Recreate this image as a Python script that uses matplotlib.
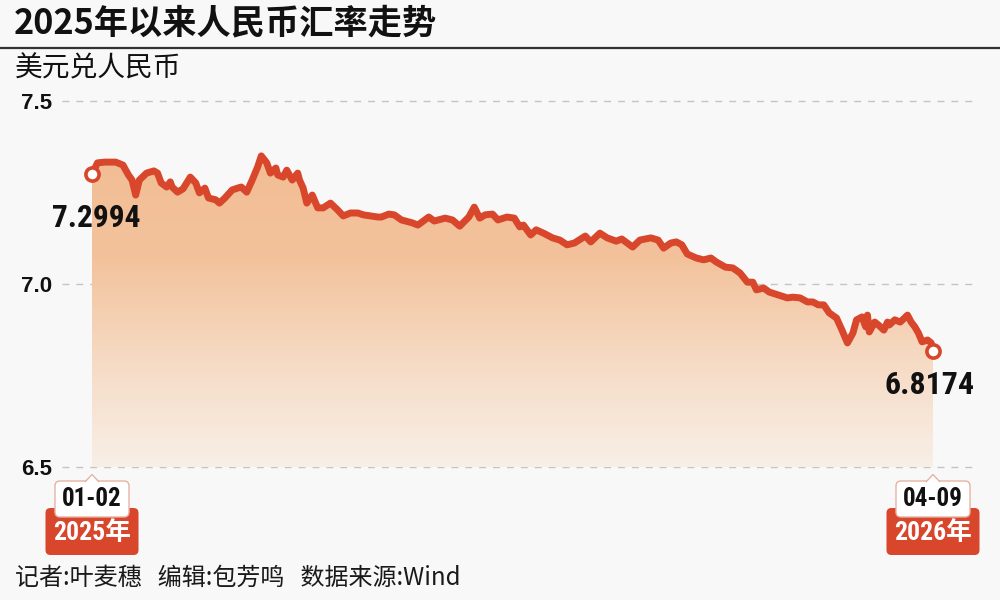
import numpy as np
import pandas as pd
import matplotlib
matplotlib.use('Agg')
import matplotlib.pyplot as plt
import matplotlib.dates as mdates
from matplotlib import font_manager as fm
from matplotlib.patches import FancyBboxPatch, Polygon
from matplotlib.lines import Line2D
from matplotlib.colors import LinearSegmentedColormap

# ---------------- data ----------------
dates = ['2025-01-02','2025-01-05','2025-01-09','2025-01-15','2025-01-19','2025-01-22','2025-01-24','2025-01-26','2025-01-28',
         '2025-02-01','2025-02-05','2025-02-07','2025-02-09','2025-02-12','2025-02-14','2025-02-15','2025-02-18','2025-02-21',
         '2025-02-25','2025-02-28','2025-03-02','2025-03-05','2025-03-07','2025-03-11','2025-03-13','2025-03-16','2025-03-20',
         '2025-03-23','2025-03-25','2025-03-28','2025-03-31','2025-04-03','2025-04-05','2025-04-08','2025-04-10','2025-04-13',
         '2025-04-14','2025-04-17','2025-04-19','2025-04-22','2025-04-25','2025-04-26','2025-04-28','2025-04-30','2025-05-03',
         '2025-05-06','2025-05-09','2025-05-13','2025-05-17','2025-05-20','2025-05-24','2025-05-28','2025-05-31','2025-06-04',
         '2025-06-08','2025-06-10','2025-06-14','2025-06-17','2025-06-21','2025-06-27','2025-06-30','2025-07-06','2025-07-09',
         '2025-07-15','2025-07-19','2025-07-23','2025-07-28','2025-07-31','2025-08-03','2025-08-06','2025-08-10','2025-08-13',
         '2025-08-18','2025-08-22','2025-08-25','2025-08-27','2025-08-31','2025-09-03','2025-09-07','2025-09-12','2025-09-16',
         '2025-09-20','2025-09-24','2025-09-30','2025-10-03','2025-10-08','2025-10-12','2025-10-17','2025-10-20','2025-10-26',
         '2025-10-30','2025-11-05','2025-11-09','2025-11-12','2025-11-16','2025-11-19','2025-11-22','2025-11-25','2025-11-30',
         '2025-12-04','2025-12-08','2025-12-11','2025-12-16','2025-12-20','2025-12-24','2025-12-28','2025-12-31','2026-01-02',
         '2026-01-06','2026-01-09','2026-01-14','2026-01-19','2026-01-22','2026-01-26','2026-01-30','2026-02-02','2026-02-05',
         '2026-02-08','2026-02-11','2026-02-15','2026-02-18','2026-02-21','2026-02-24','2026-02-26','2026-03-01','2026-03-03',
         '2026-03-04','2026-03-05','2026-03-08','2026-03-10','2026-03-13','2026-03-15','2026-03-16','2026-03-19','2026-03-22',
         '2026-03-26','2026-03-28','2026-03-30','2026-04-01','2026-04-03','2026-04-06','2026-04-08','2026-04-09']

rates = [7.2994,7.331,7.333,7.333,7.325,7.298,7.284,7.243,7.284,
         7.303,7.309,7.303,7.276,7.265,7.279,7.265,7.251,7.260,
         7.292,7.276,7.249,7.262,7.235,7.230,7.221,7.235,7.257,
         7.262,7.265,7.251,7.284,7.320,7.350,7.331,7.303,7.317,
         7.298,7.292,7.311,7.284,7.303,7.284,7.262,7.221,7.243,
         7.208,7.208,7.221,7.202,7.186,7.194,7.194,7.189,7.186,
         7.183,7.183,7.191,7.189,7.175,7.167,7.161,7.183,7.172,
         7.180,7.175,7.158,7.183,7.210,7.180,7.189,7.191,7.175,
         7.183,7.180,7.156,7.161,7.134,7.148,7.139,7.126,7.120,
         7.107,7.112,7.131,7.115,7.139,7.126,7.117,7.123,7.101,
         7.120,7.126,7.120,7.098,7.112,7.115,7.107,7.082,7.071,
         7.066,7.071,7.060,7.046,7.044,7.030,7.005,7.005,6.984,
         6.989,6.978,6.970,6.962,6.964,6.962,6.951,6.951,6.943,
         6.943,6.921,6.907,6.874,6.839,6.866,6.902,6.910,6.883,
         6.915,6.869,6.896,6.888,6.874,6.896,6.888,6.902,6.896,
         6.915,6.896,6.883,6.866,6.842,6.847,6.839,6.8174]

y_ticks = [6.5, 7.0, 7.5]
y_tick_labels = ['6.5', '7.0', '7.5']
start_label = '01-02'
end_label = '04-09'
start_year = '2025年'
end_year = '2026年'
title = '2025年以来人民币汇率走势'
unit = '美元兑人民币'
footer = '记者:叶麦穗   编辑:包芳鸣   数据来源:Wind'

if len(dates) != len(rates):
    raise SystemExit(f'length mismatch {len(dates)} {len(rates)}')

# ---------------- fonts ----------------
def has_font(name):
    try:
        fm.findfont(fm.FontProperties(family=name), fallback_to_default=False)
        return True
    except Exception:
        return False

narrow_first = [f for f in ['Liberation Sans Narrow', 'Roboto Condensed', 'DejaVu Sans Condensed'] if has_font(f)]
NARROW = narrow_first + ['Liberation Sans', 'Noto Sans CJK SC', 'DejaVu Sans']
CJK = ['Noto Sans CJK SC', 'DejaVu Sans']
NUM = ['Liberation Sans', 'Noto Sans CJK SC']

BG = '#f8f8f8'
RED = '#d8462b'

W, H = 1000, 600
fig = plt.figure(figsize=(10, 6), dpi=100, facecolor=BG)
renderer = fig.canvas.get_renderer()

def fx(px):
    return px / W

def fy(py):
    return 1 - py / H

def fit_width(txt, target_px, max_pt):
    """shrink font so that rendered width does not exceed target"""
    txt.set_fontsize(max_pt)
    w = txt.get_window_extent(renderer).width
    if w > target_px:
        txt.set_fontsize(max_pt * target_px / w)

# main axes (pixel layout)
ax = fig.add_axes([fx(62), fy(470), (975 - 62) / W, (470 - 95) / H])
ax.set_facecolor('none')

x = mdates.date2num(pd.to_datetime(dates))
y = np.array(rates)

ppd = (933 - 92) / (x[-1] - x[0])
ppu = 366.0

# gradient fill under line
fill = ax.fill_between(x, y, y_ticks[0], color='none', lw=0)
cmap = LinearSegmentedColormap.from_list('g', ['#f8efe7', '#f6dbc5', '#f3c29c', '#f2bd94'])
grad = np.linspace(0, 1, 256).reshape(-1, 1)
im = ax.imshow(grad, cmap=cmap, aspect='auto', origin='lower',
               extent=[x[0], x[-1], y_ticks[0], y.max()], zorder=1, interpolation='bicubic')
im.set_clip_path(fill.get_paths()[0], transform=ax.transData)

# grid lines
for t in y_ticks:
    ax.axhline(t, color='#c4c4c4', lw=1.0, dashes=(5, 5), zorder=0.5)

ax.plot(x, y, color=RED, lw=5.0, solid_capstyle='round', solid_joinstyle='round', zorder=3)
ax.plot([x[0], x[-1]], [y[0], y[-1]], 'o', ms=9.5, mfc='white', mec=RED, mew=2.6, zorder=4)

ax.set_xlim(x[0] - 30 / ppd, x[-1] + 42 / ppd)
ax.set_ylim(y_ticks[0] - 3 / ppu, y_ticks[-1] + 6 / ppu)

ax.set_yticks(y_ticks)
ax.set_yticklabels(y_tick_labels, fontfamily=NUM, fontweight='bold', fontsize=16, color='#111111')
ax.tick_params(axis='y', length=0, pad=7)
ax.set_xticks([])
for s in ax.spines.values():
    s.set_visible(False)

# value labels
t1 = ax.annotate(f'{y[0]:.4f}', (x[0], y[0]), xytext=(4, -44), textcoords='offset pixels',
                 ha='center', va='center', fontweight='bold', family=NARROW,
                 color='#111111', zorder=5)
t2 = ax.annotate(f'{y[-1]:.4f}', (x[-1], y[-1]), xytext=(-3, -34), textcoords='offset pixels',
                 ha='center', va='center', fontweight='bold', family=NARROW,
                 color='#111111', zorder=5)
fit_width(t1, 89, 25)
fit_width(t2, 90, 25)

# title, rule, unit, footer
tt = fig.text(fx(14), fy(23), title, va='center', ha='left', family=CJK,
              fontweight='bold', color='#111111')
fit_width(tt, 423, 26)
fig.add_artist(Line2D([0, 1], [fy(48), fy(48)], color='#333333', lw=1.6, transform=fig.transFigure))
fig.text(fx(15), fy(68), unit, fontsize=20, va='center', ha='left', family=CJK, color='#111111')
fig.text(fx(15), fy(578), footer, fontsize=17.3, va='center', ha='left', family=CJK, color='#1a1a1a')

# overlay for date boxes (pixel coords, y down)
ov = fig.add_axes([0, 0, 1, 1])
ov.set_xlim(0, W)
ov.set_ylim(H, 0)
ov.axis('off')
ov.patch.set_alpha(0)

def anchor_px(xv):
    return ax.transData.transform((xv, y_ticks[0]))[0]

def date_box(cx, md, yr):
    red = FancyBboxPatch((cx - 46.5, 508), 93, 47, boxstyle='round,pad=0,rounding_size=5',
                         fc=RED, ec='none', zorder=2)
    ov.add_patch(red)
    ty = ov.text(cx, 533, yr, color='white', fontweight='bold', family=NARROW,
                 ha='center', va='center', zorder=3)
    fit_width(ty, 78, 20)
    wb = FancyBboxPatch((cx - 37, 481), 74, 36, boxstyle='round,pad=0,rounding_size=5',
                        fc='white', ec='#e6b2a4', lw=1.0, zorder=4)
    ov.add_patch(wb)
    tri = Polygon([(cx - 7, 482), (cx, 474.5), (cx + 7, 482)], closed=False,
                  fc='white', ec='#e6b2a4', lw=1.0, zorder=5)
    ov.add_patch(tri)
    tm = ov.text(cx, 499, md, color='#111111', fontweight='bold', family=NARROW,
                 ha='center', va='center', zorder=6)
    fit_width(tm, 60, 19)

date_box(anchor_px(x[0]), start_label, start_year)
date_box(anchor_px(x[-1]), end_label, end_year)

fig.savefig('out.png', dpi=100, facecolor=BG)
